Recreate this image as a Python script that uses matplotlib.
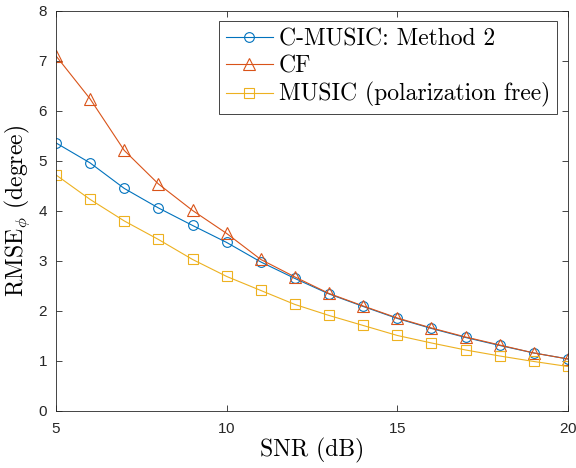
import matplotlib
matplotlib.use("Agg")
import matplotlib.pyplot as plt

# RMSE of the azimuth estimate versus SNR
snr = [5, 6, 7, 8, 9, 10, 11, 12, 13, 14, 15, 16, 17, 18, 19, 20]
cmusic = [5.36, 4.96, 4.45, 4.06, 3.71, 3.37, 2.98, 2.65, 2.34, 2.09, 1.85, 1.65, 1.47, 1.31, 1.16, 1.04]
cf = [7.10, 6.24, 5.21, 4.54, 4.01, 3.55, 3.03, 2.68, 2.35, 2.10, 1.86, 1.66, 1.48, 1.32, 1.16, 1.04]
music = [4.72, 4.23, 3.80, 3.43, 3.03, 2.69, 2.41, 2.13, 1.91, 1.71, 1.51, 1.36, 1.22, 1.10, 0.99, 0.89]

x_ticks = [5, 10, 15, 20]
y_ticks = [0, 1, 2, 3, 4, 5, 6, 7, 8]

plt.rcParams["mathtext.fontset"] = "cm"
plt.rcParams["axes.formatter.use_mathtext"] = True

fig = plt.figure(figsize=(5.76, 4.68), dpi=100)
ax = fig.add_axes([0.0972, 0.1218, 0.8888, 0.855])

ax.plot(snr, cmusic, color="#0072BD", lw=0.8, marker="o", ms=7, mfc="none", mew=0.8,
        label="C-MUSIC: Method 2")
ax.plot(snr, cf, color="#D95319", lw=0.8, marker="^", ms=8, mfc="none", mew=0.8,
        label="CF")
ax.plot(snr, music, color="#EDB120", lw=0.8, marker="s", ms=6.5, mfc="none", mew=0.8,
        label="MUSIC (polarization free)")

ax.set_xlim(5, 20)
ax.set_ylim(0, 8)
ax.set_xticks(x_ticks)
ax.set_yticks(y_ticks)
ax.tick_params(direction="in", length=4, width=0.6, top=True, right=True,
               colors="#262626", labelsize=11)
ax.tick_params(axis="x", pad=8)
ax.tick_params(axis="y", pad=6)
for lab in ax.get_xticklabels() + ax.get_yticklabels():
    lab.set_fontfamily("Liberation Sans")
for sp in ax.spines.values():
    sp.set_color("#262626")
    sp.set_linewidth(0.6)

ax.set_xlabel("SNR (dB)", fontfamily="cmr10", fontsize=17, labelpad=1)
ax.set_ylabel(r"RMSE$_\phi$ (degree)", fontfamily="cmr10", fontsize=17, labelpad=4)

leg = ax.legend(loc="upper right", prop={"family": "cmr10", "size": 17},
                fancybox=False, edgecolor="#262626", framealpha=1,
                handlelength=2.0, handletextpad=0.25, labelspacing=0.2,
                borderpad=0.3, borderaxespad=0.45)
leg.get_frame().set_linewidth(0.6)

fig.savefig("out.png", dpi=100)
